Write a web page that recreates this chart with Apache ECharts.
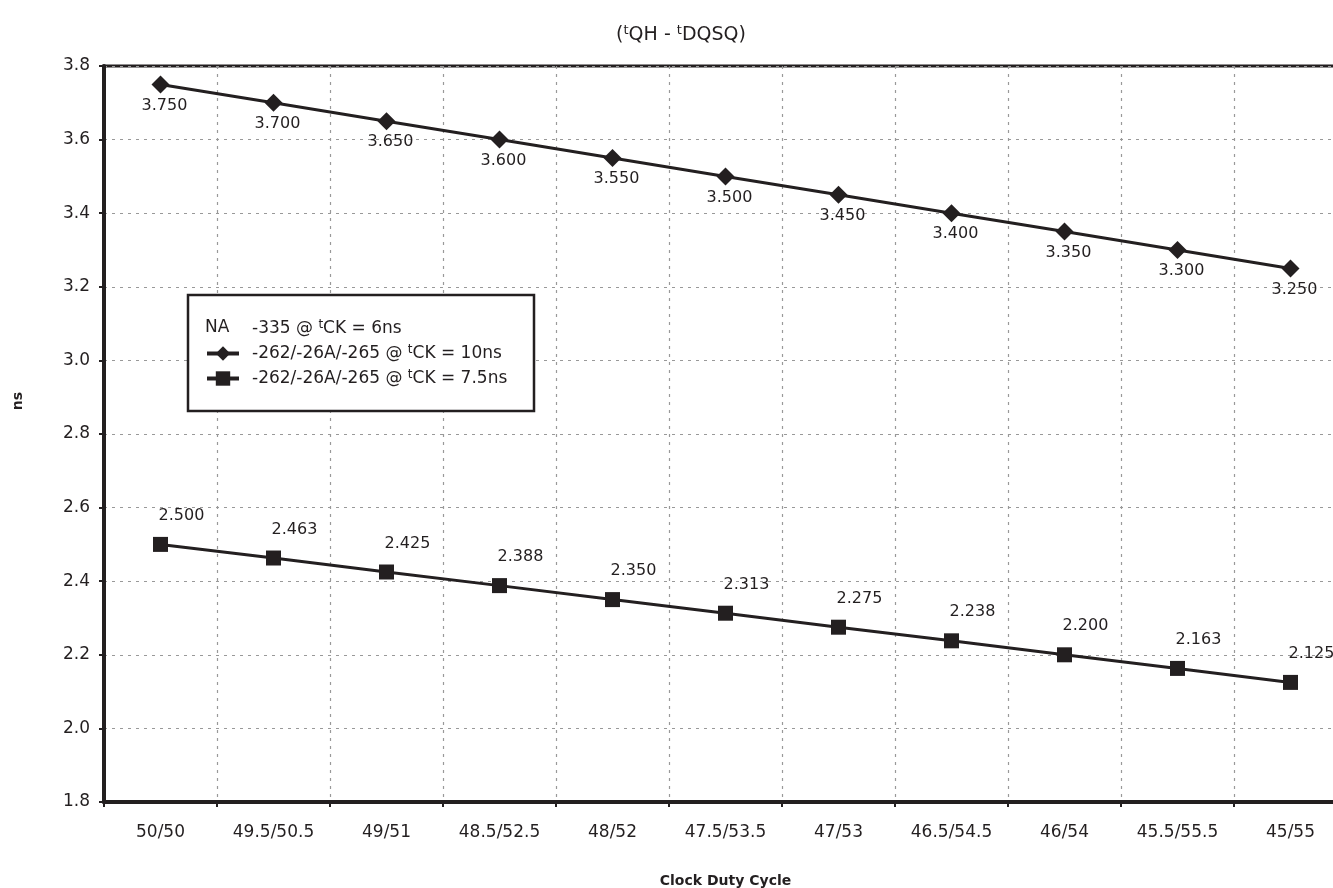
<!DOCTYPE html>
<html><head><meta charset="utf-8">
<script src="https://cdn.jsdelivr.net/npm/echarts@6/dist/echarts.min.js"></script>
<style>html,body{margin:0;padding:0;background:#fff}#c{width:1333px;height:888px}</style>
</head><body><div id="c"></div>
<script>
const categories = ['50/50','49.5/50.5','49/51','48.5/52.5','48/52','47.5/53.5','47/53','46.5/54.5','46/54','45.5/55.5','45/55'];
const series10ns = [3.750,3.700,3.650,3.600,3.550,3.500,3.450,3.400,3.350,3.300,3.250];
const series75ns = [2.500,2.463,2.425,2.388,2.350,2.313,2.275,2.238,2.200,2.163,2.125];
const yTicks = {min:1.8, max:3.8, interval:0.2};
const names = ['-335 @ tCK = 6ns','-262/-26A/-265 @ tCK = 10ns','-262/-26A/-265 @ tCK = 7.5ns'];

const FONT = '"DejaVu Sans", sans-serif';
const INK = '#231f20';
const chart = echarts.init(document.getElementById('c'));
const sup = {fontSize: 12, verticalAlign: 'top', fontFamily: FONT, color: INK, padding:[0,0,7,0]};
function supFmt(n){ return n.replace(/tCK/g, '{sup|t}CK'); }

chart.setOption({
  animation: false,
  textStyle: {fontFamily: FONT},
  title: [
    {text: '({sup|t}QH - {sup|t}DQSQ)', left: 676, top: 19, textAlign: 'center',
     textStyle: {fontSize: 19, fontWeight: 'normal', color: INK, fontFamily: FONT,
       rich: {sup: {fontSize: 13, verticalAlign: 'top', color: INK, fontFamily: FONT, padding:[0,0,9,0]}}}}
  ],
  grid: {left: 104, top: 66, right: -14, bottom: 86, outerBoundsMode: 'none', containLabel: false,
         show: true, borderColor: INK, borderWidth: 3, backgroundColor: 'transparent'},
  graphic: [
    {type: 'rect', shape: {x: 188, y: 295, width: 346, height: 116}, style: {fill: '#fff', stroke: INK, lineWidth: 2.5}, z: 10},
    {type: 'text', x: 205, y: 319, style: {text: 'NA', fontSize: 17, fill: INK, fontFamily: FONT}, z: 12},
    {type: 'text', x: 18, y: 401, rotation: Math.PI / 2,
     style: {text: 'ns', fontSize: 14, fontWeight: 'bold', fill: INK, fontFamily: FONT, align: 'center', verticalAlign: 'middle'}}
  ],
  legend: {
    left: 200, top: 314, orient: 'vertical', itemGap: 7, itemWidth: 32, itemHeight: 18,
    z: 12,
    lineStyle: {width: 4, color: INK},
    data: [{name: names[0], icon: 'none'}, {name: names[1]}, {name: names[2]}],
    formatter: supFmt,
    textStyle: {fontSize: 17, color: INK, fontFamily: FONT, padding: [0,0,0,8], rich: {sup: sup}}
  },
  xAxis: {
    type: 'category', data: categories, boundaryGap: true,
    name: 'Clock Duty Cycle', nameLocation: 'middle', nameGap: 72,
    nameTextStyle: {fontSize: 14, fontWeight: 'bold', color: INK, fontFamily: FONT},
    axisLine: {lineStyle: {color: INK, width: 4}},
    axisTick: {show: true, alignWithLabel: false, length: 5, lineStyle: {color: INK, width: 2}},
    axisLabel: {fontSize: 17, color: INK, margin: 22, fontFamily: FONT},
    splitLine: {show: true, lineStyle: {color: '#999', type: [3,5], width: 1.2}}
  },
  yAxis: {
    type: 'value', min: yTicks.min, max: yTicks.max, interval: yTicks.interval,
    axisLine: {show: true, lineStyle: {color: INK, width: 4}},
    axisTick: {show: true, length: 5, lineStyle: {color: INK, width: 2}},
    axisLabel: {fontSize: 17, color: INK, margin: 14, fontFamily: FONT, formatter: v => v.toFixed(1)},
    splitLine: {show: true, lineStyle: {color: '#999', type: [3,5], width: 1.2}}
  },
  series: [
    {name: names[0], type: 'line', data: []},
    {name: names[1], type: 'line', data: series10ns, symbol: 'diamond', symbolSize: 18,
     lineStyle: {color: INK, width: 3}, itemStyle: {color: INK},
     label: {show: true, position: 'bottom', offset: [4, -1], fontSize: 16, color: INK, fontFamily: FONT, formatter: p => p.value.toFixed(3)}},
    {name: names[2], type: 'line', data: series75ns, symbol: 'rect', symbolSize: 15,
     lineStyle: {color: INK, width: 3}, itemStyle: {color: INK},
     label: {show: true, position: 'top', offset: [21, -8], fontSize: 16, color: INK, fontFamily: FONT, formatter: p => p.value.toFixed(3)}}
  ]
});
</script></body></html>
